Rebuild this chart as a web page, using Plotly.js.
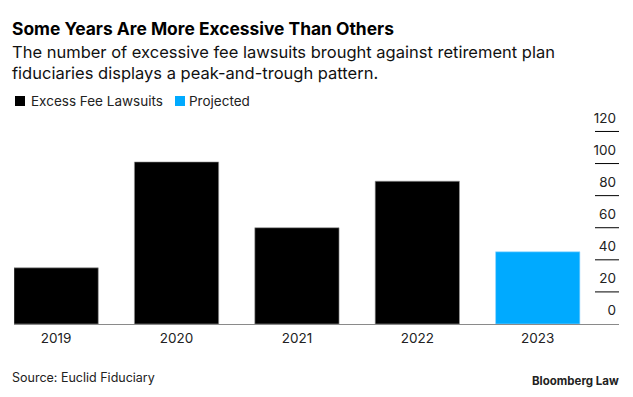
<!DOCTYPE html>
<html>
<head>
<meta charset="utf-8">
<script src="https://cdn.plot.ly/plotly-3.0.1.min.js"></script>
<style>html,body{margin:0;padding:0;background:#fff;}#chart{width:633px;height:397px;}</style>
</head>
<body>
<div id="chart"></div>
<script>
const years = ["2019", "2020", "2021", "2022", "2023"];
const lawsuits = [35, 101, 60, 89, null];
const projected = [null, null, null, null, 45];
const yTicks = [0, 20, 40, 60, 80, 100, 120];
const seriesNames = ["Excess Fee Lawsuits", "Projected"];
const seriesColors = ["#000000", "#00aaff"];

const FONT = "Inter, Liberation Sans, Arial, sans-serif";
const W = 633, H = 397;
const M = {l: 14, r: 14, t: 109, b: 73};
const PW = W - M.l - M.r, PH = H - M.t - M.b;
// container px -> paper coords
const px = v => (v - M.l) / PW;
const py = v => (H - M.b - v) / PH;

const traces = [
  {
    type: "bar", name: seriesNames[0], x: years, y: lawsuits,
    marker: {color: seriesColors[0], line: {color: "#9a9a9a", width: 0.6}},
    hoverinfo: "x+y", showlegend: false
  },
  {
    type: "bar", name: seriesNames[1], x: years, y: projected,
    marker: {color: seriesColors[1], line: {color: "#9ad8ff", width: 0.6}},
    hoverinfo: "x+y", showlegend: false
  }
];

// short right-hand tick segments at each tick value (skip 0: baseline drawn by x axis line)
const shapes = yTicks.filter(v => v !== 0).map(v => ({
  type: "line", xref: "paper", yref: "y",
  x0: px(595), x1: 1, y0: v, y1: v,
  line: {color: "#000", width: 1}, layer: "above"
}));

// legend swatches
const legendX = [15, 175];
const legendTextX = [31, 189];
seriesNames.forEach((n, i) => {
  shapes.push({
    type: "rect", xref: "paper", yref: "paper",
    x0: px(legendX[i]), x1: px(legendX[i] + 10),
    y0: py(106), y1: py(96),
    fillcolor: seriesColors[i], line: {width: 0}
  });
});

const annotations = [
  {
    text: "<b>Some Years Are More Excessive Than Others</b>",
    xref: "paper", yref: "paper", showarrow: false, align: "left",
    x: px(10), xanchor: "left", y: py(28.5), yanchor: "middle",
    font: {family: FONT, size: 17.4, color: "#000"}
  },
  {
    text: "The number of excessive fee lawsuits brought against retirement plan<br>fiduciaries displays a peak-and-trough pattern.",
    xref: "paper", yref: "paper", showarrow: false, align: "left",
    x: px(10), xanchor: "left", y: py(40), yanchor: "top",
    font: {family: FONT, size: 16.5, color: "#111"}
  },
  {
    text: "Source: Euclid Fiduciary",
    xref: "paper", yref: "paper", showarrow: false, align: "left",
    x: px(10), xanchor: "left", y: py(377), yanchor: "middle",
    font: {family: FONT, size: 12.5, color: "#222"}
  },
  {
    text: "<b>Bloomberg Law</b>",
    xref: "paper", yref: "paper", showarrow: false, align: "right",
    x: px(621), xanchor: "right", y: py(381), yanchor: "middle",
    font: {family: FONT, size: 11.5, color: "#222"}
  }
];
seriesNames.forEach((n, i) => {
  annotations.push({
    text: n, xref: "paper", yref: "paper", showarrow: false, align: "left",
    x: px(legendTextX[i] - 2), xanchor: "left", y: py(101), yanchor: "middle",
    font: {family: FONT, size: 13.5, color: "#222"}
  });
});

const layout = {
  width: W, height: H,
  margin: M,
  paper_bgcolor: "#ffffff", plot_bgcolor: "#ffffff",
  font: {family: FONT, size: 13, color: "#222"},
  barmode: "relative",
  bargap: 0.3,
  showlegend: false,
  xaxis: {
    type: "category", range: [-0.35, 4.675],
    showgrid: false, zeroline: false,
    showline: true, linecolor: "#8a8a8a", linewidth: 1,
    ticks: "", ticklabelstandoff: 2,
    tickfont: {family: FONT, size: 13.5, color: "#222"},
    fixedrange: true
  },
  yaxis: {
    side: "right", range: [0, 134],
    tickvals: yTicks, ticktext: yTicks.map(String),
    showgrid: false, zeroline: false, showline: false,
    ticks: "",
    ticklabelposition: "inside top", ticklabelshift: -4,
    tickfont: {family: FONT, size: 13.5, color: "#222"},
    fixedrange: true
  },
  shapes: shapes,
  annotations: annotations
};

Plotly.newPlot("chart", traces, layout, {displayModeBar: false, staticPlot: true});
</script>
</body>
</html>
